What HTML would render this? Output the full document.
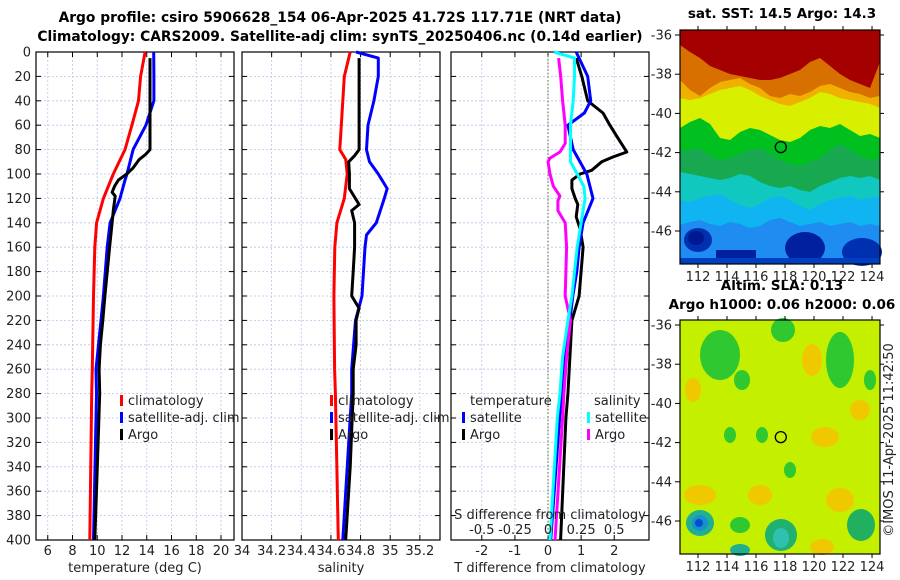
<!DOCTYPE html>
<html><head><meta charset="utf-8">
<style>
html,body{margin:0;padding:0;background:#fff;}
svg{display:block;font-family:"DejaVu Sans","Liberation Sans",sans-serif;}
</style></head>
<body>
<svg id="fig" width="900" height="580" viewBox="0 0 900 580" xmlns="http://www.w3.org/2000/svg">
<text x="340" y="22" text-anchor="middle" font-size="13.8" font-weight="bold">Argo profile: csiro 5906628_154 06-Apr-2025 41.72S 117.71E (NRT data)</text>
<text x="340" y="41" text-anchor="middle" font-size="13.8" font-weight="bold">Climatology: CARS2009. Satellite-adj clim: synTS_20250406.nc (0.14d earlier)</text>
<g id="p1"></g>
<g id="p2"></g>
<g id="p3"></g>
<g id="maps"></g>
<text transform="translate(893,440) rotate(-90)" text-anchor="middle" font-size="13" fill="#222">©IMOS 11-Apr-2025 11:42:50</text>
</svg>
<script>
// ---- data ----
const depthTicks = [0,20,40,60,80,100,120,140,160,180,200,220,240,260,280,300,320,340,360,380,400];
const tempTicks = [6,8,10,12,14,16,18,20];
const salTicks = [34,34.2,34.4,34.6,34.8,35,35.2];
const tdiffTicks = [-2,-1,0,1,2];
const sdiffTicks = [-0.5,-0.25,0,0.25,0.5];
const sdiffLabels = ["-0.5","-0.25","0","0.25","0.5"];

const climTDepth = [0,20,40,60,80,100,120,140,160,200,260,280,400];
const climT      = [13.87,13.5,13.33,12.8,12.24,11.3,10.5,9.95,9.8,9.7,9.6,9.55,9.4];
const satTDepth  = [0,20,40,60,80,100,105,120,140,160,200,220,240,260,280,400];
const satT       = [14.56,14.58,14.58,13.93,12.9,12.4,12.24,11.84,11.04,10.8,10.5,10.3,10.1,9.9,9.94,9.7];
const argoTDepth = [5,80,84,88,95,100,105,110,115,118,130,140,160,200,220,240,260,280,340,400];
const argoT      = [14.26,14.26,13.9,13.4,12.9,12.38,11.7,11.4,11.2,11.45,11.3,11.2,11.0,10.62,10.45,10.25,10.15,10.2,10.0,9.8];

const climSDepth = [0,20,40,60,80,88,100,120,140,160,200,260,280,400];
const climS      = [34.73,34.69,34.68,34.67,34.66,34.70,34.71,34.69,34.64,34.626,34.62,34.625,34.63,34.65];
const satSDepth  = [0,5,20,40,60,80,90,100,112,120,140,150,160,200,220,260,280,400];
const satS       = [34.77,34.92,34.92,34.89,34.85,34.84,34.86,34.92,34.98,34.96,34.906,34.84,34.83,34.81,34.766,34.74,34.74,34.68];
const argoSDepth = [5,80,85,90,100,112,118,125,130,140,160,180,200,210,220,240,260,280,340,400];
const argoS      = [34.79,34.79,34.76,34.72,34.725,34.725,34.755,34.79,34.74,34.76,34.76,34.75,34.74,34.79,34.77,34.77,34.75,34.75,34.73,34.70];

const satTdDepth = [0,20,40,50,60,80,100,120,140,160,180,200,220,250,280,300,400];
const satTd      = [0.85,1.2,1.29,1.1,0.6,0.76,1.17,1.36,1.06,0.94,0.87,0.75,0.66,0.5,0.41,0.35,0.08];
const argoTdDepth= [5,20,40,50,60,70,82,86,90,97,100,105,112,120,125,135,145,160,200,220,250,280,300,400];
const argoTd     = [0.85,1.02,1.2,1.66,1.87,2.1,2.38,1.97,1.62,1.32,0.97,0.72,0.72,0.82,0.9,0.85,0.97,1.06,0.94,0.72,0.66,0.6,0.54,0.38];
const satSdDepth = [0,5,20,40,60,80,90,100,110,120,140,160,200,220,250,280,300,400];
const satSd      = [0.045,0.2,0.2,0.19,0.17,0.17,0.17,0.22,0.27,0.28,0.25,0.22,0.18,0.15,0.11,0.09,0.07,0.015];
const argoSdDepth= [5,20,40,60,75,82,87,90,100,110,118,122,130,140,160,200,220,250,280,300,400];
const argoSd     = [0.08,0.096,0.11,0.13,0.13,0.09,0.015,0.0,0.015,0.04,0.09,0.075,0.075,0.13,0.14,0.13,0.17,0.14,0.12,0.11,0.053];

// ---- helpers ----
const NS="http://www.w3.org/2000/svg";
function mk(parent,tag,attrs,text){const e=document.createElementNS(NS,tag);for(const k in attrs)e.setAttribute(k,attrs[k]);if(text!==undefined)e.textContent=text;parent.appendChild(e);return e;}
const TOP=52,BOT=540;
const yS=d=>TOP+(d/400)*(BOT-TOP);
function lin(d0,d1,r0,r1){return v=>r0+(v-d0)/(d1-d0)*(r1-r0);}

function panel(g,L,R,xs,ticks,labels,showY,xlabel,xlabelX){
  ticks.forEach(t=>{const x=xs(t);
    const l=mk(g,'line',{x1:x,x2:x,y1:TOP,y2:BOT,stroke:'#b8c4ea','stroke-width':0.8,'stroke-dasharray':'2,2'});
    
    });
  depthTicks.forEach(d=>{const y=yS(d);
    const l=mk(g,'line',{x1:L,x2:R,y1:y,y2:y,stroke:'#b8c4ea','stroke-width':0.8,'stroke-dasharray':'2,2'});
    
    
    mk(g,'line',{x1:L,x2:L+5,y1:y,y2:y,stroke:'#000'});
    mk(g,'line',{x1:R-5,x2:R,y1:y,y2:y,stroke:'#000'});
    if(showY){const t=mk(g,'text',{x:L-5,y:y+4.5,'text-anchor':'end','font-size':13,fill:'#222'},String(d));
      
      }
  });
  ticks.forEach((t,i)=>{const x=xs(t);
    mk(g,'line',{x1:x,x2:x,y1:BOT-5,y2:BOT,stroke:'#000'});
    mk(g,'line',{x1:x,x2:x,y1:TOP,y2:TOP+5,stroke:'#000'});
    const tx=mk(g,'text',{x:x,y:555,'text-anchor':'middle','font-size':13,fill:'#222'},labels[i]);
    
    });
  const f=mk(g,'rect',{x:L,y:TOP,width:R-L,height:BOT-TOP,fill:'none',stroke:'#000','stroke-width':1.2});
  
  
  const xl=mk(g,'text',{x:xlabelX,y:572,'text-anchor':'middle','font-size':13,fill:'#222'},xlabel);
  
  
}
function series(g,xs,depths,vals,color,name,w){
  const pts=depths.map((d,i)=>xs(vals[i]).toFixed(1)+','+yS(d).toFixed(1)).join(' ');
  const p=mk(g,'polyline',{points:pts,fill:'none',stroke:color,'stroke-width':w||3,'stroke-linejoin':'round'});
  
  
}
function legend(g,x,y,color,label,name){
  mk(g,'rect',{x:x,y:y-10,width:3,height:11,fill:color});
  const t=mk(g,'text',{x:x+8,y:y,'font-size':13,fill:'#222'},label);
  
  
}

// Panel 1
const g1=document.getElementById('p1');
const x1=lin(5.05,21.05,36,234);
panel(g1,36,234,x1,tempTicks,tempTicks.map(String),true,'temperature (deg C)',135);
series(g1,x1,climTDepth,climT,'#ff0000','climatology-temp-line');
series(g1,x1,satTDepth,satT,'#0000ff','satellite-temp-line');
series(g1,x1,argoTDepth,argoT,'#000000','argo-temp-line');
legend(g1,120,405,'#ff0000','climatology','legend-climatology');
legend(g1,120,422,'#0000ff','satellite-adj. clim','legend-satellite');
legend(g1,120,439,'#000000','Argo','legend-argo');

// Panel 2
const g2=document.getElementById('p2');
const x2=lin(34,35.336,242,440);
panel(g2,242,440,x2,salTicks,salTicks.map(String),false,'salinity',341);
series(g2,x2,climSDepth,climS,'#ff0000','climatology-salinity-line');
series(g2,x2,satSDepth,satS,'#0000ff','satellite-salinity-line');
series(g2,x2,argoSDepth,argoS,'#000000','argo-salinity-line');
legend(g2,330,405,'#ff0000','climatology','legend-climatology-s');
legend(g2,330,422,'#0000ff','satellite-adj. clim','legend-satellite-s');
legend(g2,330,439,'#000000','Argo','legend-argo-s');

// Panel 3
const g3=document.getElementById('p3');
const x3=lin(-2.93,3.05,451,649);
const x3s=v=>x3(v*4);
panel(g3,451,649,x3,tdiffTicks,tdiffTicks.map(String),false,'T difference from climatology',550);
const z=mk(g3,'line',{x1:x3(0),x2:x3(0),y1:TOP,y2:BOT,stroke:'#556b2f','stroke-width':1,'stroke-dasharray':'1.5,2'});


series(g3,x3,argoTdDepth,argoTd,'#000000','argo-tdiff-line');
series(g3,x3,satTdDepth,satTd,'#0000ff','satellite-tdiff-line');
series(g3,x3s,argoSdDepth,argoSd,'#ff00ff','argo-sdiff-line');
series(g3,x3s,satSdDepth,satSd,'#00ffff','satellite-sdiff-line');
let tt=mk(g3,'text',{x:470,y:405,'font-size':13,fill:'#222'},'temperature');

tt=mk(g3,'text',{x:594,y:405,'font-size':13,fill:'#222'},'salinity');

legend(g3,462,422,'#0000ff','satellite','legend-t-satellite');
legend(g3,462,439,'#000000','Argo','legend-t-argo');
legend(g3,587,422,'#00ffff','satellite','legend-s-satellite');
legend(g3,587,439,'#ff00ff','Argo','legend-s-argo');
tt=mk(g3,'text',{x:550,y:519,'text-anchor':'middle','font-size':13,fill:'#222'},'S difference from climatology');

sdiffTicks.forEach((s,i)=>{const t=mk(g3,'text',{x:x3s(s),y:534,'text-anchor':'middle','font-size':13,fill:'#222'},sdiffLabels[i]);
  
  });

// ---- maps ----
const gm=document.getElementById('maps');
const lonTicks=[112,114,116,118,120,122,124];
const latTicks=[-36,-38,-40,-42,-44,-46];
function mapAxes(top,bot,title1,title2){
  const lx=lin(110.76,124.55,680,880), ly=v=>top+5+(-36-v)*19.6;
  mk(gm,'rect',{x:680,y:top,width:200,height:bot-top,fill:'none',stroke:'#000','stroke-width':1.2});
  latTicks.forEach(l=>{const y=ly(l);mk(gm,'line',{x1:675,x2:680,y1:y,y2:y,stroke:'#000'});mk(gm,'line',{x1:880,x2:884,y1:y,y2:y,stroke:'#000'});
    const t=mk(gm,'text',{x:672,y:y+4.5,'text-anchor':'end','font-size':13,fill:'#222'},String(l));
    });
  lonTicks.forEach(l=>{const x=lx(l);mk(gm,'line',{x1:x,x2:x,y1:bot,y2:bot+4,stroke:'#000'});mk(gm,'line',{x1:x,x2:x,y1:top-4,y2:top,stroke:'#000'});
    const t=mk(gm,'text',{x:x,y:bot+17,'text-anchor':'middle','font-size':13,fill:'#222'},String(l));
    });
  let t=mk(gm,'text',{x:782,y:top-(title2?30:12),'text-anchor':'middle','font-size':13.5,'font-weight':'bold'},title1);
  
  if(title2){t=mk(gm,'text',{x:782,y:top-11,'text-anchor':'middle','font-size':13.5,'font-weight':'bold'},title2);
    }
  const c=mk(gm,'circle',{cx:lx(117.71),cy:ly(-41.72),r:5.5,fill:'none',stroke:'#000','stroke-width':1.3});
  
}
// SST map
const sst=mk(gm,'g',{});

const bx=[680,690,700,710,720,730,740,750,760,770,780,790,800,810,820,830,840,850,860,870,880];
function band(g,top,yb,color){const pts=bx.map((x,i)=>x+','+yb[i]).join(' ');mk(g,'polygon',{points:'880,'+top+' 680,'+top+' '+pts,fill:color});}
mk(sst,'rect',{x:680,y:30,width:200,height:234,fill:'#1e8cf0'});
band(sst,30,[225,222,220,224,226,222,224,228,226,220,218,222,226,224,222,226,224,222,226,224,226],'#10b4f0');
band(sst,30,[200,202,198,196,194,200,205,208,204,198,196,200,206,210,204,200,198,196,200,198,196],'#10c8c0');
band(sst,30,[172,174,176,178,180,178,174,176,182,186,188,186,190,192,186,182,178,176,178,176,180],'#18a850');
band(sst,30,[152,150,148,156,160,158,154,150,148,154,160,164,166,162,158,150,144,150,156,160,158],'#00c020');
band(sst,30,[128,122,118,124,138,140,132,128,130,135,140,142,138,130,126,128,124,130,136,134,138],'#d8f000');
band(sst,30,[98,100,98,94,90,88,86,90,96,100,104,106,102,98,92,94,98,100,102,104,108],'#f0b000');
band(sst,30,[80,90,96,88,82,80,78,84,88,96,98,94,96,92,86,84,88,92,94,98,96],'#d87000');
band(sst,30,[45,52,58,66,70,74,76,78,80,80,78,74,70,62,58,66,74,80,84,88,62],'#a40000');
mk(sst,'ellipse',{cx:698,cy:240,rx:14,ry:12,fill:'#0030b0'});
mk(sst,'ellipse',{cx:696,cy:238,rx:8,ry:7,fill:'#001890'});
mk(sst,'rect',{x:716,y:250,width:40,height:14,fill:'#0020a0'});
mk(sst,'ellipse',{cx:805,cy:248,rx:20,ry:16,fill:'#0020a0'});
mk(sst,'ellipse',{cx:862,cy:252,rx:20,ry:14,fill:'#0030b0'});
mk(sst,'rect',{x:680,y:258,width:200,height:6,fill:'#0040c0'});
mapAxes(30,264,'sat. SST: 14.5 Argo: 14.3',null);
// SLA map
const sla=mk(gm,'g',{});

mk(sla,'rect',{x:680,y:320,width:200,height:234,fill:'#c4f000'});
[[812,360,10,16],[693,390,8,12],[825,437,14,10],[700,495,16,10],[760,495,12,10],[840,500,14,12],[822,547,12,8],[860,410,10,10]].forEach(a=>mk(sla,'ellipse',{cx:a[0],cy:a[1],rx:a[2],ry:a[3],fill:'#f0c800'}));
[[720,355,20,25],[742,380,8,10],[783,330,12,12],[840,360,14,28],[730,435,6,8],[762,435,6,8],[790,470,6,8],[740,525,10,8],[870,380,6,10]].forEach(a=>mk(sla,'ellipse',{cx:a[0],cy:a[1],rx:a[2],ry:a[3],fill:'#30c830'}));
[[700,523,14,13,'#20b090'],[700,523,8,8,'#1890d0'],[781,535,16,16,'#20b070'],[781,538,8,10,'#30c0b0'],[861,525,14,16,'#20b060'],[740,550,10,6,'#20b090']].forEach(a=>mk(sla,'ellipse',{cx:a[0],cy:a[1],rx:a[2],ry:a[3],fill:a[4]}));
mk(sla,'ellipse',{cx:699,cy:523,rx:4,ry:4,fill:'#0050d0'});
mapAxes(320,554,'Altim. SLA: 0.13','Argo h1000: 0.06 h2000: 0.06');
</script>
</body></html>
